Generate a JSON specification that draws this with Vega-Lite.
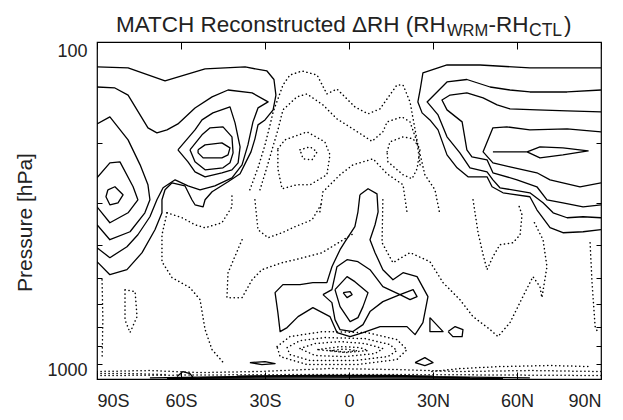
{
  "$schema": "https://vega.github.io/schema/vega-lite/v6.json",
  "width": 504,
  "height": 337,
  "autosize": {"type": "none"},
  "padding": {"left": 97, "top": 42, "right": 22, "bottom": 41},
  "background": "white",
  "config": {
    "font": "Liberation Sans",
    "view": {"stroke": "black", "strokeWidth": 1.2}
  },
  "resolve": {"axis": {"x": "independent", "y": "independent"}},
  "datasets": {
    "pos": [
      {"c":"S1","lat":-90,"p":118.6},{"c":"S1","lat":-78.9,"p":119.4},{"c":"S1","lat":-65.7,"p":130.5},{"c":"S1","lat":-51.4,"p":120.2},{"c":"S1","lat":-37.1,"p":118.6},{"c":"S1","lat":-29.3,"p":121.9},{"c":"S1","lat":-26.8,"p":129.2},{"c":"S1","lat":-26.1,"p":143.7},{"c":"S1","lat":-27.1,"p":159},{"c":"S1","lat":-30,"p":170.3},{"c":"S1","lat":-32.5,"p":176.2},{"c":"S1","lat":-33.6,"p":193.8},{"c":"S1","lat":-35,"p":211.8},{"c":"S1","lat":-36.8,"p":226.8},{"c":"S1","lat":-38.9,"p":246.1},{"c":"S1","lat":-43.2,"p":259.9},{"c":"S1","lat":-48.9,"p":278.3},{"c":"S1","lat":-51.4,"p":293.9},{"c":"S1","lat":-52.1,"p":308.3},{"c":"S1","lat":-55,"p":304.1},{"c":"S1","lat":-56.1,"p":293.9},{"c":"S1","lat":-58.6,"p":267.1},{"c":"S1","lat":-63.2,"p":261.7},{"c":"S1","lat":-65.7,"p":274.5},{"c":"S1","lat":-66.8,"p":293.9},{"c":"S1","lat":-66.8,"p":321.2},{"c":"S1","lat":-69.3,"p":360.6},{"c":"S1","lat":-73.9,"p":421.8},{"c":"S1","lat":-79.3,"p":473.8},{"c":"S1","lat":-85.4,"p":490.3},{"c":"S1","lat":-90,"p":448.6},
      {"c":"S2","lat":-90,"p":136},{"c":"S2","lat":-83.6,"p":136.9},{"c":"S2","lat":-78.9,"p":143.7},{"c":"S2","lat":-71.8,"p":179.8},{"c":"S2","lat":-68.6,"p":186.1},{"c":"S2","lat":-65,"p":182.3},{"c":"S2","lat":-61.1,"p":175},{"c":"S2","lat":-55,"p":156.9},{"c":"S2","lat":-48.9,"p":145.5},{"c":"S2","lat":-43.2,"p":138.8},{"c":"S2","lat":-34.6,"p":141.6},{"c":"S2","lat":-28.9,"p":150.6},{"c":"S2","lat":-32.5,"p":156.9},{"c":"S2","lat":-34.3,"p":172.6},{"c":"S2","lat":-36.1,"p":202},{"c":"S2","lat":-38.2,"p":231.5},{"c":"S2","lat":-41.8,"p":252.9},{"c":"S2","lat":-47.9,"p":267.1},{"c":"S2","lat":-53.2,"p":274.5},{"c":"S2","lat":-57.5,"p":267.1},{"c":"S2","lat":-62.1,"p":256.4},{"c":"S2","lat":-66.4,"p":270.8},{"c":"S2","lat":-68.6,"p":293.9},{"c":"S2","lat":-71.1,"p":330},{"c":"S2","lat":-75.4,"p":373.2},{"c":"S2","lat":-79.3,"p":405},{"c":"S2","lat":-85.4,"p":436.6},{"c":"S2","lat":-90,"p":407.8},
      {"c":"S3","lat":-90,"p":175},{"c":"S3","lat":-85.4,"p":166.8},{"c":"S3","lat":-78.9,"p":195.2},{"c":"S3","lat":-74.6,"p":231.5},{"c":"S3","lat":-71.8,"p":265.3},{"c":"S3","lat":-71.1,"p":293.9},{"c":"S3","lat":-72.9,"p":321.2},{"c":"S3","lat":-78.2,"p":365.6},{"c":"S3","lat":-85.4,"p":386.1},{"c":"S3","lat":-90,"p":348.6},
      {"c":"S4","lat":-90,"p":252.9},{"c":"S4","lat":-85.4,"p":228.3},{"c":"S4","lat":-81.8,"p":226.8},{"c":"S4","lat":-77.1,"p":268.9},{"c":"S4","lat":-75.4,"p":293.9},{"c":"S4","lat":-78.9,"p":321.2},{"c":"S4","lat":-85.4,"p":343.9},{"c":"S4","lat":-90,"p":308.3},
      {"c":"L0","lat":-86.1,"p":274.5},{"c":"L0","lat":-83.6,"p":268.9},{"c":"L0","lat":-80.7,"p":284.1},{"c":"L0","lat":-82.5,"p":300},{"c":"L0","lat":-85.4,"p":304.1},{"c":"L0","lat":-86.8,"p":287.9},{"c":"L0","lat":-86.1,"p":274.5},
      {"c":"E1","lat":-53.9,"p":208.9},{"c":"E1","lat":-51.4,"p":202},{"c":"E1","lat":-45.4,"p":199.2},{"c":"E1","lat":-42.5,"p":206.1},{"c":"E1","lat":-43.2,"p":216.2},{"c":"E1","lat":-45.4,"p":220.7},{"c":"E1","lat":-52.1,"p":220.7},{"c":"E1","lat":-53.9,"p":213.3},{"c":"E1","lat":-53.9,"p":208.9},
      {"c":"E2","lat":-56.8,"p":208.9},{"c":"E2","lat":-52.5,"p":188.6},{"c":"E2","lat":-49.6,"p":179.8},{"c":"E2","lat":-45,"p":178.6},{"c":"E2","lat":-41.8,"p":191.2},{"c":"E2","lat":-41.4,"p":213.3},{"c":"E2","lat":-42.5,"p":228.3},{"c":"E2","lat":-45,"p":236.2},{"c":"E2","lat":-51.4,"p":239.5},{"c":"E2","lat":-55,"p":226.8},{"c":"E2","lat":-56.8,"p":208.9},
      {"c":"E3","lat":-61.1,"p":208.9},{"c":"E3","lat":-55,"p":182.3},{"c":"E3","lat":-52.5,"p":170.3},{"c":"E3","lat":-48.6,"p":162.3},{"c":"E3","lat":-42.5,"p":155.8},{"c":"E3","lat":-40.7,"p":173.8},{"c":"E3","lat":-38.9,"p":204.7},{"c":"E3","lat":-39.6,"p":228.3},{"c":"E3","lat":-41.8,"p":239.5},{"c":"E3","lat":-45.4,"p":244.4},{"c":"E3","lat":-51.4,"p":251.2},{"c":"E3","lat":-55,"p":242.8},{"c":"E3","lat":-57.5,"p":226.8},{"c":"E3","lat":-61.1,"p":208.9},
      {"c":"R1","lat":90,"p":119.4},{"c":"R1","lat":64.6,"p":119.4},{"c":"R1","lat":46.8,"p":117},{"c":"R1","lat":35,"p":117},{"c":"R1","lat":26.4,"p":123.5},{"c":"R1","lat":25.4,"p":138.8},{"c":"R1","lat":24.6,"p":150.6},{"c":"R1","lat":26.1,"p":162.3},{"c":"R1","lat":28.9,"p":170.3},{"c":"R1","lat":31.8,"p":182.3},{"c":"R1","lat":35,"p":216.2},{"c":"R1","lat":38.6,"p":236.2},{"c":"R1","lat":42.5,"p":251.2},{"c":"R1","lat":49.3,"p":251.2},{"c":"R1","lat":51.1,"p":268.9},{"c":"R1","lat":55,"p":280.2},{"c":"R1","lat":64.6,"p":287.9},{"c":"R1","lat":67.1,"p":314.7},{"c":"R1","lat":71.8,"p":355.7},{"c":"R1","lat":76.4,"p":368.1},{"c":"R1","lat":83.6,"p":365.6},{"c":"R1","lat":90,"p":360.6},
      {"c":"R2","lat":90,"p":138.8},{"c":"R2","lat":77.9,"p":140.7},{"c":"R2","lat":64.6,"p":140.7},{"c":"R2","lat":57.5,"p":138.8},{"c":"R2","lat":50.4,"p":136},{"c":"R2","lat":42.1,"p":129.2},{"c":"R2","lat":35,"p":131.4},{"c":"R2","lat":27.9,"p":150.6},{"c":"R2","lat":31.8,"p":164.6},{"c":"R2","lat":35,"p":191.2},{"c":"R2","lat":39.6,"p":213.3},{"c":"R2","lat":43.2,"p":236.2},{"c":"R2","lat":49.3,"p":242.8},{"c":"R2","lat":51.4,"p":256.4},{"c":"R2","lat":53.9,"p":270.8},{"c":"R2","lat":64.6,"p":280.2},{"c":"R2","lat":69.3,"p":300},{"c":"R2","lat":72.9,"p":321.2},{"c":"R2","lat":77.9,"p":332.3},{"c":"R2","lat":83.6,"p":330},{"c":"R2","lat":90,"p":332.3},
      {"c":"R3","lat":90,"p":161.2},{"c":"R3","lat":77.9,"p":160.1},{"c":"R3","lat":67.1,"p":159},{"c":"R3","lat":57.5,"p":157.9},{"c":"R3","lat":52.9,"p":153.7},{"c":"R3","lat":47.9,"p":146.5},{"c":"R3","lat":42.1,"p":141.6},{"c":"R3","lat":36.1,"p":143.7},{"c":"R3","lat":33.2,"p":148.6},{"c":"R3","lat":35,"p":159},{"c":"R3","lat":40.4,"p":172.6},{"c":"R3","lat":42.1,"p":208.9},{"c":"R3","lat":43.9,"p":219.2},{"c":"R3","lat":49.3,"p":223.7},{"c":"R3","lat":51.4,"p":244.4},{"c":"R3","lat":60,"p":256.4},{"c":"R3","lat":67.1,"p":268.9},{"c":"R3","lat":70.7,"p":293.9},{"c":"R3","lat":76.4,"p":300},{"c":"R3","lat":83.6,"p":308.3},{"c":"R3","lat":90,"p":304.1},
      {"c":"R4","lat":90,"p":184.8},{"c":"R4","lat":77.9,"p":181.1},{"c":"R4","lat":64.6,"p":182.3},{"c":"R4","lat":56.4,"p":178.6},{"c":"R4","lat":51.4,"p":179.8},{"c":"R4","lat":47.9,"p":211.8},{"c":"R4","lat":51.4,"p":228.3},{"c":"R4","lat":57.5,"p":234.6},{"c":"R4","lat":67.1,"p":244.4},{"c":"R4","lat":71.8,"p":256.4},{"c":"R4","lat":82.5,"p":268.9},{"c":"R4","lat":90,"p":261.7},
      {"c":"T","lat":51.4,"p":211.8},{"c":"T","lat":63.6,"p":211.8},{"c":"T","lat":68.2,"p":204.7},{"c":"T","lat":76.4,"p":206.1},{"c":"T","lat":85.4,"p":210.4},{"c":"T","lat":76.4,"p":216.2},{"c":"T","lat":68.2,"p":220.7},{"c":"T","lat":63.6,"p":211.8},
      {"c":"C1","lat":3.9,"p":284.1},{"c":"C1","lat":3.2,"p":319},{"c":"C1","lat":2.1,"p":353.3},{"c":"C1","lat":-1.4,"p":391.4},{"c":"C1","lat":-3.2,"p":413.4},{"c":"C1","lat":-6.1,"p":464.2},{"c":"C1","lat":-7.9,"p":517.7},{"c":"C1","lat":-12.9,"p":517.7},{"c":"C1","lat":-17.5,"p":524.9},{"c":"C1","lat":-23.6,"p":524.9},{"c":"C1","lat":-26.4,"p":554.3},{"c":"C1","lat":-25.4,"p":635.4},{"c":"C1","lat":-24.6,"p":723.3},{"c":"C1","lat":-22.1,"p":703.7},{"c":"C1","lat":-18.2,"p":652.9},{"c":"C1","lat":-12.9,"p":614.1},{"c":"C1","lat":-6.8,"p":652.9},{"c":"C1","lat":-4.3,"p":728.3},{"c":"C1","lat":0.4,"p":748.4},{"c":"C1","lat":5,"p":728.3},{"c":"C1","lat":11.1,"p":699},{"c":"C1","lat":20.7,"p":699},{"c":"C1","lat":23.6,"p":738.3},{"c":"C1","lat":26.4,"p":680.3},{"c":"C1","lat":28.2,"p":569.6},{"c":"C1","lat":24.3,"p":497},{"c":"C1","lat":19.3,"p":483.6},{"c":"C1","lat":15.7,"p":507.4},{"c":"C1","lat":12.1,"p":473.8},{"c":"C1","lat":9.3,"p":421.8},{"c":"C1","lat":7.5,"p":386.1},{"c":"C1","lat":9.3,"p":348.6},{"c":"C1","lat":10.4,"p":319},{"c":"C1","lat":10,"p":282.2},{"c":"C1","lat":6.8,"p":272.6},{"c":"C1","lat":3.9,"p":284.1},
      {"c":"C2","lat":-9.3,"p":561.9},{"c":"C2","lat":-6.1,"p":543.1},{"c":"C2","lat":-4.3,"p":464.2},{"c":"C2","lat":-0.7,"p":442.6},{"c":"C2","lat":3.2,"p":448.6},{"c":"C2","lat":7.5,"p":473.8},{"c":"C2","lat":12.1,"p":532.1},{"c":"C2","lat":18.2,"p":561.9},{"c":"C2","lat":22.9,"p":543.1},{"c":"C2","lat":24.3,"p":569.6},{"c":"C2","lat":21.8,"p":581.4},{"c":"C2","lat":18.2,"p":561.9},{"c":"C2","lat":12.1,"p":589.4},{"c":"C2","lat":7.5,"p":631},{"c":"C2","lat":5,"p":689.6},{"c":"C2","lat":1.4,"p":723.3},{"c":"C2","lat":-3.2,"p":713.5},{"c":"C2","lat":-5,"p":666.4},{"c":"C2","lat":-6.1,"p":593.4},{"c":"C2","lat":-9.3,"p":561.9},
      {"c":"C3","lat":-5,"p":543.1},{"c":"C3","lat":-0.7,"p":497},{"c":"C3","lat":2.1,"p":514.2},{"c":"C3","lat":6.8,"p":554.3},{"c":"C3","lat":5,"p":609.9},{"c":"C3","lat":3.2,"p":657.4},{"c":"C3","lat":0.4,"p":675.6},{"c":"C3","lat":-3.2,"p":609.9},{"c":"C3","lat":-5,"p":543.1},
      {"c":"C4","lat":-2.1,"p":554.3},{"c":"C4","lat":0.4,"p":550.5},{"c":"C4","lat":1.1,"p":561.9},{"c":"C4","lat":-0.7,"p":573.6},{"c":"C4","lat":-2.1,"p":554.3},
      {"c":"Q1","lat":28.9,"p":657.4},{"c":"Q1","lat":33.6,"p":723.3},{"c":"Q1","lat":28.9,"p":723.3},{"c":"Q1","lat":28.9,"p":657.4},
      {"c":"Q2","lat":35.4,"p":723.3},{"c":"Q2","lat":37.9,"p":699},{"c":"Q2","lat":40.7,"p":713.5},{"c":"Q2","lat":40.4,"p":748.4},{"c":"Q2","lat":37.1,"p":748.4},{"c":"Q2","lat":35.4,"p":723.3},
      {"c":"Q3","lat":23.6,"p":893.7},{"c":"Q3","lat":27.1,"p":863.8},{"c":"Q3","lat":30,"p":893.7},{"c":"Q3","lat":27.1,"p":912.2},{"c":"Q3","lat":23.6,"p":893.7},
      {"c":"Q4","lat":-35.4,"p":893.7},{"c":"Q4","lat":-30,"p":887.6},{"c":"Q4","lat":-26.4,"p":899.9},{"c":"Q4","lat":-31.1,"p":906},{"c":"Q4","lat":-35.4,"p":893.7},
      {"c":"Q5","lat":-61.4,"p":983.1},{"c":"Q5","lat":-59.3,"p":950.3},{"c":"Q5","lat":-56.8,"p":963.4},{"c":"Q5","lat":-55.7,"p":989.9},
      {"c":"SF1","lat":-71.1,"p":993},{"c":"SF1","lat":-35.4,"p":983},{"c":"SF1","lat":0.4,"p":980},{"c":"SF1","lat":36.1,"p":986},{"c":"SF1","lat":64.6,"p":993},
      {"c":"SF2","lat":-53.2,"p":990},{"c":"SF2","lat":-17.5,"p":986},{"c":"SF2","lat":18.2,"p":986},{"c":"SF2","lat":43.2,"p":990},
      {"c":"SF3","lat":-40,"p":980},{"c":"SF3","lat":-10,"p":975},{"c":"SF3","lat":15,"p":976},{"c":"SF3","lat":30,"p":981},
      {"c":"SF4","lat":-65,"p":996},{"c":"SF4","lat":0,"p":993},{"c":"SF4","lat":55,"p":996}
    ],
    "neg": [
      {"c":"D1","lat":-35.4,"p":274.5},{"c":"D1","lat":-32.5,"p":236.2},{"c":"D1","lat":-30,"p":202},{"c":"D1","lat":-28.2,"p":176.2},{"c":"D1","lat":-27.1,"p":161.2},{"c":"D1","lat":-23.6,"p":134.2},{"c":"D1","lat":-21.1,"p":125.3},{"c":"D1","lat":-16.8,"p":121.9},{"c":"D1","lat":-11.4,"p":125.3},{"c":"D1","lat":-7.9,"p":142.6},{"c":"D1","lat":-4.3,"p":137.9},{"c":"D1","lat":-2.1,"p":143.7},{"c":"D1","lat":2.1,"p":155.8},{"c":"D1","lat":6.8,"p":163.4},{"c":"D1","lat":11.1,"p":157.9},{"c":"D1","lat":13.6,"p":147.5},{"c":"D1","lat":17.1,"p":134.2},{"c":"D1","lat":19.3,"p":134.2},{"c":"D1","lat":21.8,"p":150.6},{"c":"D1","lat":22.9,"p":169.1},{"c":"D1","lat":24.6,"p":202},{"c":"D1","lat":27.1,"p":247.7},{"c":"D1","lat":30.7,"p":274.5},{"c":"D1","lat":32.5,"p":325.6},
      {"c":"D2","lat":-31.8,"p":274.5},{"c":"D2","lat":-29.6,"p":239.5},{"c":"D2","lat":-27.5,"p":208.9},{"c":"D2","lat":-25.4,"p":182.3},{"c":"D2","lat":-23.6,"p":159},{"c":"D2","lat":-18.6,"p":145.5},{"c":"D2","lat":-15,"p":142.6},{"c":"D2","lat":-9.3,"p":153.7},{"c":"D2","lat":-4.3,"p":169.1},{"c":"D2","lat":1.4,"p":181.1},{"c":"D2","lat":8.2,"p":197.1},{"c":"D2","lat":12.1,"p":184.8},{"c":"D2","lat":13.6,"p":172.6},{"c":"D2","lat":18.9,"p":166.8},{"c":"D2","lat":21.8,"p":172.6},{"c":"D2","lat":24.3,"p":197.9},{"c":"D2","lat":25.4,"p":231.5},
      {"c":"D3L","lat":-25.4,"p":207.5},{"c":"D3L","lat":-22.9,"p":195.2},{"c":"D3L","lat":-15,"p":184.8},{"c":"D3L","lat":-8.6,"p":197.9},{"c":"D3L","lat":-6.8,"p":216.2},{"c":"D3L","lat":-7.9,"p":247.7},{"c":"D3L","lat":-13.9,"p":265.3},{"c":"D3L","lat":-18.6,"p":265.3},{"c":"D3L","lat":-23.9,"p":272.6},{"c":"D3L","lat":-25.4,"p":237.9},{"c":"D3L","lat":-25.4,"p":207.5},
      {"c":"D3R","lat":13.6,"p":211.8},{"c":"D3R","lat":14.6,"p":197.9},{"c":"D3R","lat":19.3,"p":191.2},{"c":"D3R","lat":22.9,"p":193.8},{"c":"D3R","lat":25.4,"p":207.5},{"c":"D3R","lat":24.3,"p":237.9},{"c":"D3R","lat":22.5,"p":254.6},{"c":"D3R","lat":19.3,"p":247.7},{"c":"D3R","lat":13.9,"p":226.8},{"c":"D3R","lat":13.6,"p":211.8},
      {"c":"D4","lat":-17.5,"p":208.9},{"c":"D4","lat":-13.9,"p":204.7},{"c":"D4","lat":-11.4,"p":211.8},{"c":"D4","lat":-13.2,"p":223.7},{"c":"D4","lat":-16.4,"p":222.2},{"c":"D4","lat":-17.5,"p":208.9},
      {"c":"D5","lat":-10.4,"p":319},{"c":"D5","lat":-9.3,"p":278.3},{"c":"D5","lat":-3.2,"p":247.7},{"c":"D5","lat":1.4,"p":231.5},{"c":"D5","lat":8.6,"p":222.2},{"c":"D5","lat":13.6,"p":246.1},{"c":"D5","lat":19.3,"p":265.3},{"c":"D5","lat":20.7,"p":319},
      {"c":"LA","lat":-25.7,"p":801.3},{"c":"LA","lat":-21.1,"p":748.4},{"c":"LA","lat":-9.3,"p":723.3},{"c":"LA","lat":6.4,"p":728.3},{"c":"LA","lat":17.1,"p":763.9},{"c":"LA","lat":20.7,"p":817.9},{"c":"LA","lat":17.1,"p":875.6},{"c":"LA","lat":2.9,"p":906},{"c":"LA","lat":-15,"p":906},{"c":"LA","lat":-24.6,"p":857.9},{"c":"LA","lat":-25.7,"p":801.3},
      {"c":"LB","lat":-22.1,"p":806.8},{"c":"LB","lat":-17.5,"p":769.1},{"c":"LB","lat":-8.6,"p":753.6},{"c":"LB","lat":5.7,"p":758.7},{"c":"LB","lat":14.6,"p":790.4},{"c":"LB","lat":17.1,"p":823.5},{"c":"LB","lat":13.9,"p":857.9},{"c":"LB","lat":2.1,"p":881.5},{"c":"LB","lat":-13.9,"p":881.5},{"c":"LB","lat":-21.1,"p":846.2},{"c":"LB","lat":-22.1,"p":806.8},
      {"c":"LC","lat":-17.5,"p":812.3},{"c":"LC","lat":-12.1,"p":785},{"c":"LC","lat":-3.2,"p":774.4},{"c":"LC","lat":5.7,"p":785},{"c":"LC","lat":12.1,"p":812.3},{"c":"LC","lat":9.3,"p":840.4},{"c":"LC","lat":-1.4,"p":857.9},{"c":"LC","lat":-12.1,"p":852},{"c":"LC","lat":-17.5,"p":812.3},
      {"c":"LD","lat":-11.1,"p":817.9},{"c":"LD","lat":-3.2,"p":801.3},{"c":"LD","lat":3.9,"p":806.8},{"c":"LD","lat":6.8,"p":823.5},{"c":"LD","lat":-1.4,"p":834.7},{"c":"LD","lat":-11.1,"p":817.9},
      {"c":"LE","lat":-6.8,"p":823.5},{"c":"LE","lat":-1.4,"p":814.9},{"c":"LE","lat":2.9,"p":823.5},{"c":"LE","lat":-1.4,"p":832},{"c":"LE","lat":-6.8,"p":823.5},
      {"c":"B1","lat":-90,"p":950},{"c":"B1","lat":-71.1,"p":944},{"c":"B1","lat":-53.2,"p":957},{"c":"B1","lat":-31.8,"p":950},{"c":"B1","lat":-6.8,"p":931},{"c":"B1","lat":18.2,"p":938},{"c":"B1","lat":39.6,"p":950},{"c":"B1","lat":64.6,"p":944},{"c":"B1","lat":90,"p":950},
      {"c":"B2","lat":-90,"p":976.5},{"c":"B2","lat":-53.2,"p":973},{"c":"B2","lat":-17.5,"p":970},{"c":"B2","lat":18.2,"p":970},{"c":"B2","lat":53.9,"p":973},{"c":"B2","lat":90,"p":976.5},
      {"c":"B3","lat":-90,"p":963.4},{"c":"B3","lat":-78.2,"p":963.4},{"c":"B3","lat":-65.7,"p":969.9},
      {"c":"DL1","lat":-88.2,"p":507.4},{"c":"DL1","lat":-87.9,"p":666.4},{"c":"DL1","lat":-88.2,"p":875.6},
      {"c":"DL2","lat":-80,"p":543.1},{"c":"DL2","lat":-76.4,"p":550.5},{"c":"DL2","lat":-75.7,"p":652.9},{"c":"DL2","lat":-78.2,"p":728.3},{"c":"DL2","lat":-80,"p":666.4},{"c":"DL2","lat":-80,"p":543.1},
      {"c":"DL3","lat":-65,"p":321.2},{"c":"DL3","lat":-59.6,"p":332.3},{"c":"DL3","lat":-55,"p":348.6},{"c":"DL3","lat":-51.4,"p":355.8},{"c":"DL3","lat":-45.4,"p":343.9},{"c":"DL3","lat":-41.8,"p":308.3},{"c":"DL3","lat":-41.8,"p":284.1},
      {"c":"DL4","lat":-65,"p":321.2},{"c":"DL4","lat":-66.8,"p":373.2},{"c":"DL4","lat":-66.8,"p":448.6},{"c":"DL4","lat":-63.2,"p":500.4},{"c":"DL4","lat":-56.8,"p":535.8},{"c":"DL4","lat":-53.2,"p":581.4},{"c":"DL4","lat":-51.4,"p":713.5},{"c":"DL4","lat":-48.9,"p":817.9},{"c":"DL4","lat":-44.3,"p":906},
      {"c":"DL5","lat":-33.6,"p":293.9},{"c":"DL5","lat":-32.5,"p":360.6},{"c":"DL5","lat":-28.9,"p":380.9},{"c":"DL5","lat":-23.9,"p":368.1},{"c":"DL5","lat":-19.3,"p":353.3},{"c":"DL5","lat":-13.2,"p":337},{"c":"DL5","lat":-9.6,"p":300},
      {"c":"DL6","lat":-38.2,"p":386.1},{"c":"DL6","lat":-43.2,"p":483.6},{"c":"DL6","lat":-43.6,"p":573.6},{"c":"DL6","lat":-38.2,"p":573.6},{"c":"DL6","lat":-34.6,"p":507.4},{"c":"DL6","lat":-31.1,"p":473.8},{"c":"DL6","lat":-23.9,"p":451.7},{"c":"DL6","lat":-19.3,"p":442.6},{"c":"DL6","lat":-9.6,"p":421.8},{"c":"DL6","lat":2.1,"p":368.1},
      {"c":"DR1","lat":12.1,"p":293.9},{"c":"DR1","lat":11.8,"p":394.1},{"c":"DR1","lat":15.7,"p":451.7},{"c":"DR1","lat":21.8,"p":421.8},{"c":"DR1","lat":28.9,"p":448.6},{"c":"DR1","lat":33.6,"p":517.7},{"c":"DR1","lat":39.6,"p":581.4},{"c":"DR1","lat":44.3,"p":652.9},{"c":"DR1","lat":50.4,"p":713.5},{"c":"DR1","lat":53.2,"p":748.4},{"c":"DR1","lat":57.5,"p":680.3},{"c":"DR1","lat":62.1,"p":569.6},{"c":"DR1","lat":65.7,"p":497},{"c":"DR1","lat":68.2,"p":532.1},{"c":"DR1","lat":68.9,"p":573.6},{"c":"DR1","lat":70.7,"p":464.2},{"c":"DR1","lat":69.3,"p":386.1},{"c":"DR1","lat":65.7,"p":337},
      {"c":"DV","lat":44.3,"p":293.9},{"c":"DV","lat":46.1,"p":368.1},{"c":"DV","lat":47.9,"p":427.7},{"c":"DV","lat":49.3,"p":473.8},{"c":"DV","lat":51.4,"p":433.6},{"c":"DV","lat":53.9,"p":399.5},{"c":"DV","lat":58.6,"p":394.1},{"c":"DV","lat":61.1,"p":373.2},{"c":"DV","lat":61.8,"p":325.6},{"c":"DV","lat":60.7,"p":306.2},
      {"c":"DR2","lat":86.1,"p":394.1},{"c":"DR2","lat":86.8,"p":517.7},{"c":"DR2","lat":87.9,"p":699},{"c":"DR2","lat":88.9,"p":728.3},
      {"c":"DR3","lat":29.6,"p":950.3},{"c":"DR3","lat":39.6,"p":931.3},{"c":"DR3","lat":53.9,"p":918.5},{"c":"DR3","lat":71.8,"p":912.2},{"c":"DR3","lat":86.1,"p":918.5}
    ]
  },
  "layer": [
    {
      "data": {"name": "pos"},
      "mark": {"type": "line", "stroke": "black", "strokeWidth": 1.3, "clip": true, "strokeJoin": "round"},
      "encoding": {
        "x": {"field": "lat", "type": "quantitative",
              "scale": {"domain": [-90, 90], "nice": false, "zero": false},
              "axis": {"orient": "bottom", "values": [-90, -60, -30, 0, 30, 60, 90],
                       "labelExpr": "datum.value < 0 ? (-datum.value) + 'S' : (datum.value > 0 ? datum.value + 'N' : '0')",
                       "title": null, "domain": false, "grid": false,
                       "tickSize": -7, "tickColor": "black", "tickWidth": 1,
                       "labelFontSize": 18, "labelColor": "#222", "labelPadding": 20}},
        "y": {"field": "p", "type": "quantitative",
              "scale": {"type": "log", "domain": [100, 1000], "reverse": true, "nice": false},
              "axis": {"orient": "left", "values": [100, 200, 300, 400, 500, 600, 700, 800, 900, 1000],
                       "labelExpr": "datum.value == 100 ? '100' : (datum.value == 1000 ? '1000' : '')",
                       "labelFlush": true, "labelFlushOffset": 0,
                       "title": "Pressure [hPa]", "titleFontSize": 21, "titleFontWeight": "normal",
                       "titleColor": "#222", "titleX": -72, "titleY": 180, "titleAngle": -90,
                       "titleAlign": "center", "titleBaseline": "middle",
                       "domain": false, "grid": false,
                       "tickSize": -5, "tickColor": "black", "tickWidth": 1,
                       "labelFontSize": 18, "labelColor": "#222", "labelPadding": 15}},
        "detail": {"field": "c"},
        "order": {"value": null}
      }
    },
    {
      "data": {"name": "neg"},
      "mark": {"type": "line", "stroke": "black", "strokeWidth": 1.5, "strokeDash": [0.2, 3.8], "strokeCap": "round", "clip": true},
      "encoding": {
        "x": {"field": "lat", "type": "quantitative",
              "scale": {"domain": [-90, 90], "nice": false, "zero": false},
              "axis": {"orient": "top", "values": [-90, -60, -30, 0, 30, 60, 90], "labels": false,
                       "title": null, "domain": false, "grid": false,
                       "tickSize": -7, "tickColor": "black", "tickWidth": 1}},
        "y": {"field": "p", "type": "quantitative",
              "scale": {"type": "log", "domain": [100, 1000], "reverse": true, "nice": false},
              "axis": {"orient": "right", "values": [200, 300, 400, 500, 600, 700, 800, 900], "labels": false,
                       "title": null, "domain": false, "grid": false,
                       "tickSize": -5, "tickColor": "black", "tickWidth": 1}},
        "detail": {"field": "c"},
        "order": {"value": null}
      }
    },
    {
      "data": {"values": [{}]},
      "mark": {"type": "text", "text": "MATCH Reconstructed \u0394RH (RH", "align": "left", "baseline": "alphabetic", "fontSize": 22.5, "color": "#222", "clip": false},
      "encoding": {
        "x": {"datum": -83.2, "type": "quantitative", "scale": {"domain": [-90, 90], "nice": false, "zero": false}, "axis": null},
        "y": {"datum": 93.2, "type": "quantitative", "scale": {"type": "log", "domain": [100, 1000], "reverse": true, "nice": false}, "axis": null}
      }
    },
    {
      "data": {"values": [{}]},
      "mark": {"type": "text", "text": "WRM", "align": "left", "baseline": "alphabetic", "fontSize": 16.5, "color": "#222", "clip": false},
      "encoding": {
        "x": {"datum": 35.0, "type": "quantitative", "scale": {"domain": [-90, 90], "nice": false, "zero": false}, "axis": null},
        "y": {"datum": 96.0, "type": "quantitative", "scale": {"type": "log", "domain": [100, 1000], "reverse": true, "nice": false}, "axis": null}
      }
    },
    {
      "data": {"values": [{}]},
      "mark": {"type": "text", "text": "-RH", "align": "left", "baseline": "alphabetic", "fontSize": 22.5, "color": "#222", "clip": false},
      "encoding": {
        "x": {"datum": 49.8, "type": "quantitative", "scale": {"domain": [-90, 90], "nice": false, "zero": false}, "axis": null},
        "y": {"datum": 93.2, "type": "quantitative", "scale": {"type": "log", "domain": [100, 1000], "reverse": true, "nice": false}, "axis": null}
      }
    },
    {
      "data": {"values": [{}]},
      "mark": {"type": "text", "text": "CTL", "align": "left", "baseline": "alphabetic", "fontSize": 17.5, "color": "#222", "clip": false},
      "encoding": {
        "x": {"datum": 64.3, "type": "quantitative", "scale": {"domain": [-90, 90], "nice": false, "zero": false}, "axis": null},
        "y": {"datum": 96.0, "type": "quantitative", "scale": {"type": "log", "domain": [100, 1000], "reverse": true, "nice": false}, "axis": null}
      }
    },
    {
      "data": {"values": [{}]},
      "mark": {"type": "text", "text": ")", "align": "left", "baseline": "alphabetic", "fontSize": 22.5, "color": "#222", "clip": false},
      "encoding": {
        "x": {"datum": 76.8, "type": "quantitative", "scale": {"domain": [-90, 90], "nice": false, "zero": false}, "axis": null},
        "y": {"datum": 93.2, "type": "quantitative", "scale": {"type": "log", "domain": [100, 1000], "reverse": true, "nice": false}, "axis": null}
      }
    }
  ]
}
